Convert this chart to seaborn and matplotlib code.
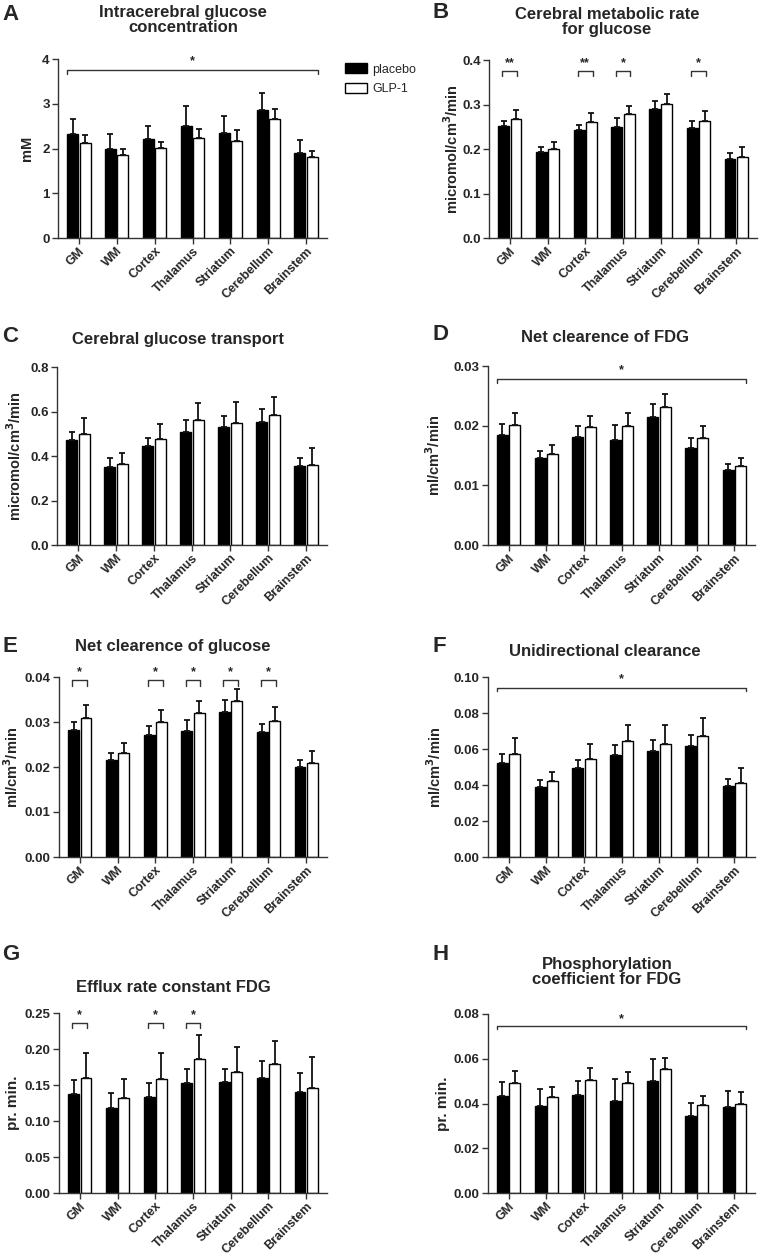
import numpy as np
import pandas as pd
import seaborn as sns
import matplotlib.pyplot as plt

regions = ["GM", "WM", "Cortex", "Thalamus", "Striatum", "Cerebellum", "Brainstem"]
groups = ["placebo", "GLP-1"]

# A - intracerebral glucose concentration (mM)
a_placebo = [2.32, 1.99, 2.21, 2.50, 2.35, 2.85, 1.89]
a_placebo_err = [0.34, 0.33, 0.30, 0.44, 0.38, 0.39, 0.29]
a_glp = [2.12, 1.85, 2.02, 2.24, 2.16, 2.66, 1.81]
a_glp_err = [0.18, 0.14, 0.13, 0.20, 0.26, 0.22, 0.14]

# B - cerebral metabolic rate for glucose
b_placebo = [0.2525, 0.194, 0.2435, 0.250, 0.289, 0.247, 0.178]
b_placebo_err = [0.0115, 0.011, 0.0115, 0.020, 0.019, 0.016, 0.014]
b_glp = [0.268, 0.201, 0.260, 0.2785, 0.3015, 0.264, 0.183]
b_glp_err = [0.0195, 0.015, 0.020, 0.0185, 0.0215, 0.0205, 0.022]
b_sig = ["**", "", "**", "*", "", "*", ""]

# C - cerebral glucose transport
c_placebo = [0.47, 0.35, 0.445, 0.51, 0.53, 0.555, 0.355]
c_placebo_err = [0.04, 0.04, 0.037, 0.052, 0.048, 0.055, 0.035]
c_glp = [0.50, 0.365, 0.475, 0.56, 0.55, 0.585, 0.36]
c_glp_err = [0.072, 0.048, 0.068, 0.08, 0.092, 0.082, 0.075]

# D - net clearence of FDG
d_placebo = [0.0185, 0.0145, 0.0181, 0.0176, 0.0214, 0.0163, 0.0125]
d_placebo_err = [0.0018, 0.0012, 0.0018, 0.0025, 0.0023, 0.0017, 0.0011]
d_glp = [0.0201, 0.0153, 0.0198, 0.0200, 0.0231, 0.0180, 0.0133]
d_glp_err = [0.0021, 0.0014, 0.0019, 0.0021, 0.0022, 0.0019, 0.0013]

# E - net clearence of glucose
e_placebo = [0.0283, 0.0216, 0.0272, 0.0280, 0.0323, 0.0277, 0.0200]
e_placebo_err = [0.0016, 0.0015, 0.0019, 0.0024, 0.0027, 0.0018, 0.0016]
e_glp = [0.0309, 0.0231, 0.0299, 0.0321, 0.0347, 0.0303, 0.0210]
e_glp_err = [0.0029, 0.0022, 0.0028, 0.0026, 0.0027, 0.0030, 0.0026]
e_sig = ["*", "", "*", "*", "*", "*", ""]

# F - unidirectional clearance
f_placebo = [0.052, 0.039, 0.0495, 0.0565, 0.059, 0.0615, 0.0395]
f_placebo_err = [0.005, 0.004, 0.0045, 0.006, 0.006, 0.0065, 0.004]
f_glp = [0.0575, 0.042, 0.0545, 0.0645, 0.063, 0.0675, 0.041]
f_glp_err = [0.0085, 0.0055, 0.0085, 0.009, 0.0105, 0.010, 0.0085]

# G - efflux rate constant FDG
g_placebo = [0.138, 0.1175, 0.134, 0.153, 0.154, 0.1595, 0.140]
g_placebo_err = [0.019, 0.022, 0.019, 0.019, 0.018, 0.024, 0.027]
g_glp = [0.160, 0.132, 0.158, 0.186, 0.168, 0.179, 0.146]
g_glp_err = [0.035, 0.026, 0.037, 0.033, 0.035, 0.032, 0.043]
g_sig = ["*", "", "*", "*", "", "", ""]

# H - phosphorylation coefficient for FDG
h_placebo = [0.0435, 0.039, 0.044, 0.041, 0.050, 0.0345, 0.0385]
h_placebo_err = [0.006, 0.0075, 0.006, 0.010, 0.010, 0.0057, 0.0072]
h_glp = [0.049, 0.043, 0.0505, 0.049, 0.0555, 0.0395, 0.040]
h_glp_err = [0.0055, 0.0045, 0.0055, 0.005, 0.005, 0.0038, 0.0053]

sns.set_theme(style="ticks")
plt.rcParams["font.family"] = ["Liberation Sans", "DejaVu Sans"]
plt.rcParams["font.weight"] = "bold"
plt.rcParams["axes.labelweight"] = "bold"

W, H = 759, 1258
fig = plt.figure(figsize=(W / 100, H / 100), dpi=100)


def px_axes(left, right, top, bottom):
    return fig.add_axes([left / W, 1 - bottom / H, (right - left) / W, (bottom - top) / H])


def fig_text(x, y, s, **kw):
    fig.text(x / W, 1 - y / H, s, **kw)


def panel(ax, placebo, placebo_err, glp, glp_err, ymax, ystep, fmt, ylabel,
          ylab_x, ylab_size=10.5, legend=False):
    df = pd.DataFrame({
        "region": regions * 2,
        "group": [groups[0]] * 7 + [groups[1]] * 7,
        "value": placebo + glp,
    })
    sns.barplot(data=df, x="region", y="value", hue="group", hue_order=groups,
                palette=["black", "white"], edgecolor="black", linewidth=1.0,
                width=0.66, gap=0.12, errorbar=None, legend=legend, ax=ax)
    # SEM, drawn upward only
    for cont, err in zip(ax.containers[:2], [placebo_err, glp_err]):
        xs = [b.get_x() + b.get_width() / 2 for b in cont]
        tops = [b.get_height() for b in cont]
        ax.errorbar(xs, tops, yerr=[np.zeros(len(err)), err], fmt="none",
                    ecolor="#111111", elinewidth=1.3, capsize=2.3, capthick=1.3,
                    zorder=5, clip_on=False)
    ax.set_xlim(-0.55, 6.55)
    ax.set_ylim(0, ymax)
    ticks = np.arange(0, ymax + ystep / 2, ystep)
    ax.set_yticks(ticks)
    ax.set_yticklabels([fmt.format(t) for t in ticks])
    ax.set_xlabel("")
    ax.set_ylabel(ylabel, fontsize=ylab_size, fontweight="bold", va="center")
    ax.yaxis.set_label_coords(ylab_x, 0.5)
    sns.despine(ax=ax)
    for sp in ["left", "bottom"]:
        ax.spines[sp].set_linewidth(1.0)
        ax.spines[sp].set_color("#333333")
    ax.tick_params(axis="both", length=4, width=1.0, color="#333333",
                   labelsize=9.5, pad=2)
    ax.tick_params(axis="x", pad=1, labelsize=9)
    for lab in ax.get_xticklabels():
        lab.set_rotation(45)
        lab.set_ha("right")
        lab.set_va("top")
        lab.set_rotation_mode("anchor")
        lab.set_fontweight("bold")
    for lab in ax.get_yticklabels():
        lab.set_fontweight("bold")
    return ax


def bracket_all(ax, y, drop):
    first = ax.containers[0][0]
    last = ax.containers[1][-1]
    x0 = first.get_x()
    x1 = last.get_x() + last.get_width()
    ax.plot([x0, x0, x1, x1], [y - drop, y, y, y - drop], color="#333333",
            lw=1.0, clip_on=False)
    ax.text((x0 + x1) / 2, y + drop * 0.6, "*", ha="center", va="bottom",
            fontsize=9, fontweight="bold")


def bracket_each(ax, sig, y, drop):
    for i, s in enumerate(sig):
        if not s:
            continue
        b0 = ax.containers[0][i]
        b1 = ax.containers[1][i]
        x0 = b0.get_x() + b0.get_width() * 0.4
        x1 = b1.get_x() + b1.get_width() * 0.6
        ax.plot([x0, x0, x1, x1], [y - drop, y, y, y - drop], color="#333333",
                lw=1.0, clip_on=False)
        ax.text((x0 + x1) / 2, y + drop * 0.4, s, ha="center", va="bottom",
                fontsize=9, fontweight="bold")


title_kw = dict(ha="center", va="center", fontsize=12, fontweight="bold",
                linespacing=1.0)
letter_kw = dict(ha="left", va="center", fontsize=16, fontweight="bold")

# A
axA = px_axes(58, 327, 59, 238)
panel(axA, a_placebo, a_placebo_err, a_glp, a_glp_err, 4, 1, "{:.0f}", "mM",
      -0.115, legend=True)
bracket_all(axA, 3.76, 0.09)
sns.move_legend(axA, "upper left", bbox_to_anchor=(1.067, 0.975), frameon=False,
                title=None, handlelength=1.75, handleheight=0.85,
                labelspacing=0.55, handletextpad=0.45, borderpad=0,
                borderaxespad=0, prop={"weight": "normal", "size": 9})
fig_text(183, 20, "Intracerebral glucose\nconcentration", **title_kw)
fig_text(2, 14, "A", **letter_kw)

# B
axB = px_axes(489, 757, 60, 238)
panel(axB, b_placebo, b_placebo_err, b_glp, b_glp_err, 0.4, 0.1, "{:.1f}",
      "micromol/cm$^3$/min", -0.14)
bracket_each(axB, b_sig, 0.375, 0.011)
fig_text(607, 22, "Cerebral metabolic rate\nfor glucose", **title_kw)
fig_text(432, 12, "B", **letter_kw)

# C
axC = px_axes(57, 327, 367, 545)
panel(axC, c_placebo, c_placebo_err, c_glp, c_glp_err, 0.8, 0.2, "{:.1f}",
      "micromol/cm$^3$/min", -0.155)
fig_text(178, 339, "Cerebral glucose transport", **title_kw)
fig_text(2, 336, "C", **letter_kw)

# D
axD = px_axes(488, 755, 366, 545)
panel(axD, d_placebo, d_placebo_err, d_glp, d_glp_err, 0.03, 0.01, "{:.2f}",
      "ml/cm$^3$/min", -0.205)
bracket_all(axD, 0.0279, 0.0007)
fig_text(605, 338, "Net clearence of FDG", **title_kw)
fig_text(432, 334, "D", **letter_kw)

# E
axE = px_axes(59, 327, 677, 857)
panel(axE, e_placebo, e_placebo_err, e_glp, e_glp_err, 0.04, 0.01, "{:.2f}",
      "ml/cm$^3$/min", -0.175)
bracket_each(axE, e_sig, 0.0393, 0.0012)
fig_text(173, 646, "Net clearence of glucose", **title_kw)
fig_text(2, 646, "E", **letter_kw)

# F
axF = px_axes(488, 755, 677, 857)
panel(axF, f_placebo, f_placebo_err, f_glp, f_glp_err, 0.10, 0.02, "{:.2f}",
      "ml/cm$^3$/min", -0.2)
bracket_all(axF, 0.094, 0.002)
fig_text(605, 651, "Unidirectional clearance", **title_kw)
fig_text(432, 646, "F", **letter_kw)

# G
axG = px_axes(59, 327, 1013, 1193)
panel(axG, g_placebo, g_placebo_err, g_glp, g_glp_err, 0.25, 0.05, "{:.2f}",
      "pr. min.", -0.17, ylab_size=11)
bracket_each(axG, g_sig, 0.236, 0.0065)
fig_text(173, 988, "Efflux rate constant FDG", **title_kw)
fig_text(2, 955, "G", **letter_kw)

# H
axH = px_axes(488, 755, 1014, 1193)
panel(axH, h_placebo, h_placebo_err, h_glp, h_glp_err, 0.08, 0.02, "{:.2f}",
      "pr. min.", -0.17, ylab_size=11)
bracket_all(axH, 0.0745, 0.0012)
fig_text(607, 972, "Phosphorylation\ncoefficient for FDG", **title_kw)
fig_text(432, 955, "H", **letter_kw)

fig.savefig("out.png", dpi=100)
